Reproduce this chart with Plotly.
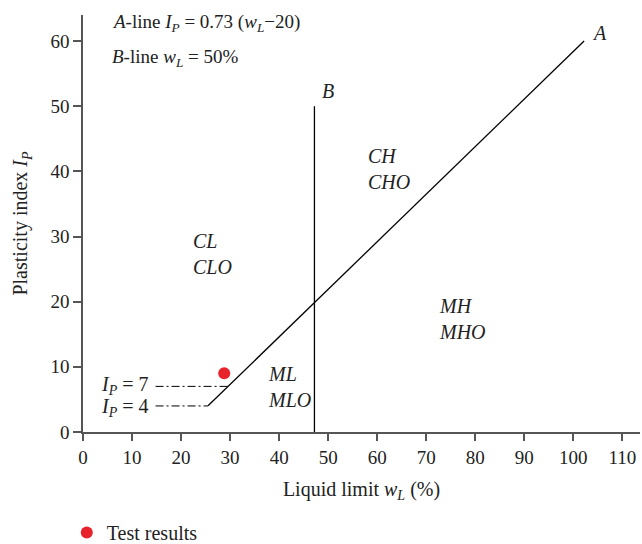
import plotly.graph_objects as go

# A-line: I_P = 0.73 (w_L - 20)
a_line_wl = [25.5, 102.2]
a_line_ip = [0.73 * (w - 20) for w in a_line_wl]
# B-line (vertical)
b_line_wl = [47.2, 47.2]
b_line_ip = [0, 50]
# Dash-dot reference lines I_P = 7 and I_P = 4
ip7_wl = [14.8, 29.6]
ip7_ip = [7, 7]
ip4_wl = [14.8, 25.5]
ip4_ip = [4, 4]
# Test results
test_wl = [28.8]
test_ip = [9.0]

region_labels = ["<i>CH</i><br><i>CHO</i>", "<i>CL</i><br><i>CLO</i>",
                 "<i>MH</i><br><i>MHO</i>", "<i>ML</i><br><i>MLO</i>"]
region_x = [57.7, 22.0, 72.2, 37.3]
region_y = [40.4, 27.3, 17.3, 6.9]

FONT = "Liberation Serif"
AX = "#555555"
TXT = "#222222"
FS = 20

fig = go.Figure()
fig.add_trace(go.Scatter(x=a_line_wl, y=a_line_ip, mode="lines",
                         line=dict(color="black", width=1.3), showlegend=False, hoverinfo="skip"))
fig.add_trace(go.Scatter(x=b_line_wl, y=b_line_ip, mode="lines",
                         line=dict(color="black", width=1.3), showlegend=False, hoverinfo="skip"))
fig.add_trace(go.Scatter(x=ip7_wl, y=ip7_ip, mode="lines",
                         line=dict(color="black", width=1, dash="8px,3px,2px,3px"),
                         showlegend=False, hoverinfo="skip"))
fig.add_trace(go.Scatter(x=ip4_wl, y=ip4_ip, mode="lines",
                         line=dict(color="black", width=1, dash="8px,3px,2px,3px"),
                         showlegend=False, hoverinfo="skip"))
fig.add_trace(go.Scatter(x=test_wl, y=test_ip, mode="markers", name="Test results",
                         marker=dict(color="#e8222a", size=12)))

ann = []
for t, x, y in zip(region_labels, region_x, region_y):
    ann.append(dict(x=x, y=y, text=t, showarrow=False, xanchor="left", yanchor="middle",
                    align="left", font=dict(size=FS, family=FONT, color=TXT)))
ann.append(dict(x=105.4, y=61.3, text="<i>A</i>", showarrow=False,
                xanchor="center", yanchor="middle", font=dict(size=FS, family=FONT, color=TXT)))
ann.append(dict(x=50.0, y=52.3, text="<i>B</i>", showarrow=False,
                xanchor="center", yanchor="middle", font=dict(size=FS, family=FONT, color=TXT)))
ann.append(dict(x=13.8, y=7.2, text="<i>I</i><sub><i>P</i></sub> = 7", showarrow=False,
                xanchor="right", yanchor="middle", font=dict(size=FS, family=FONT, color=TXT)))
ann.append(dict(x=13.8, y=3.7, text="<i>I</i><sub><i>P</i></sub> = 4", showarrow=False,
                xanchor="right", yanchor="middle", font=dict(size=FS, family=FONT, color=TXT)))
ann.append(dict(x=5.6, y=62.8, text="<i>A</i>-line <i>I</i><sub><i>P</i></sub> = 0.73 (<i>w</i><sub><i>L</i></sub>\u221220)",
                showarrow=False, xanchor="left", yanchor="middle",
                font=dict(size=FS - 1, family=FONT, color=TXT)))
ann.append(dict(x=5.6, y=57.4, text="<i>B</i>-line <i>w</i><sub><i>L</i></sub> = 50%",
                showarrow=False, xanchor="left", yanchor="middle",
                font=dict(size=FS - 1, family=FONT, color=TXT)))

fig.update_layout(
    width=642, height=544,
    margin=dict(l=83, r=2, t=15, b=112, autoexpand=False),
    paper_bgcolor="white", plot_bgcolor="white",
    font=dict(family=FONT, size=FS, color=TXT),
    annotations=ann,
    showlegend=True,
    legend=dict(orientation="h", xref="container", yref="container", x=0.104, y=0.021,
                xanchor="left", yanchor="middle",
                font=dict(size=FS, family=FONT, color=TXT)),
    xaxis=dict(range=[0, 113.6], tickvals=list(range(0, 111, 10)), showgrid=False, zeroline=False,
               showline=True, linecolor=AX, linewidth=1.5, ticks="outside", ticklen=7,
               tickcolor=AX, tickwidth=1.5, tickfont=dict(size=19, family=FONT, color=TXT),
               title=dict(text="Liquid limit <i>w</i><sub><i>L</i></sub> (%)", standoff=15,
                          font=dict(size=FS, family=FONT, color=TXT))),
    yaxis=dict(range=[0, 64.0], tickvals=list(range(0, 61, 10)), showgrid=False, zeroline=False,
               showline=True, linecolor=AX, linewidth=1.5, ticks="outside", ticklen=8,
               tickcolor=AX, tickwidth=1.5, tickfont=dict(size=19, family=FONT, color=TXT),
               title=dict(text="Plasticity index <i>I</i><sub><i>P</i></sub>", standoff=17,
                          font=dict(size=FS, family=FONT, color=TXT))),
)

fig.write_html("out.html")
